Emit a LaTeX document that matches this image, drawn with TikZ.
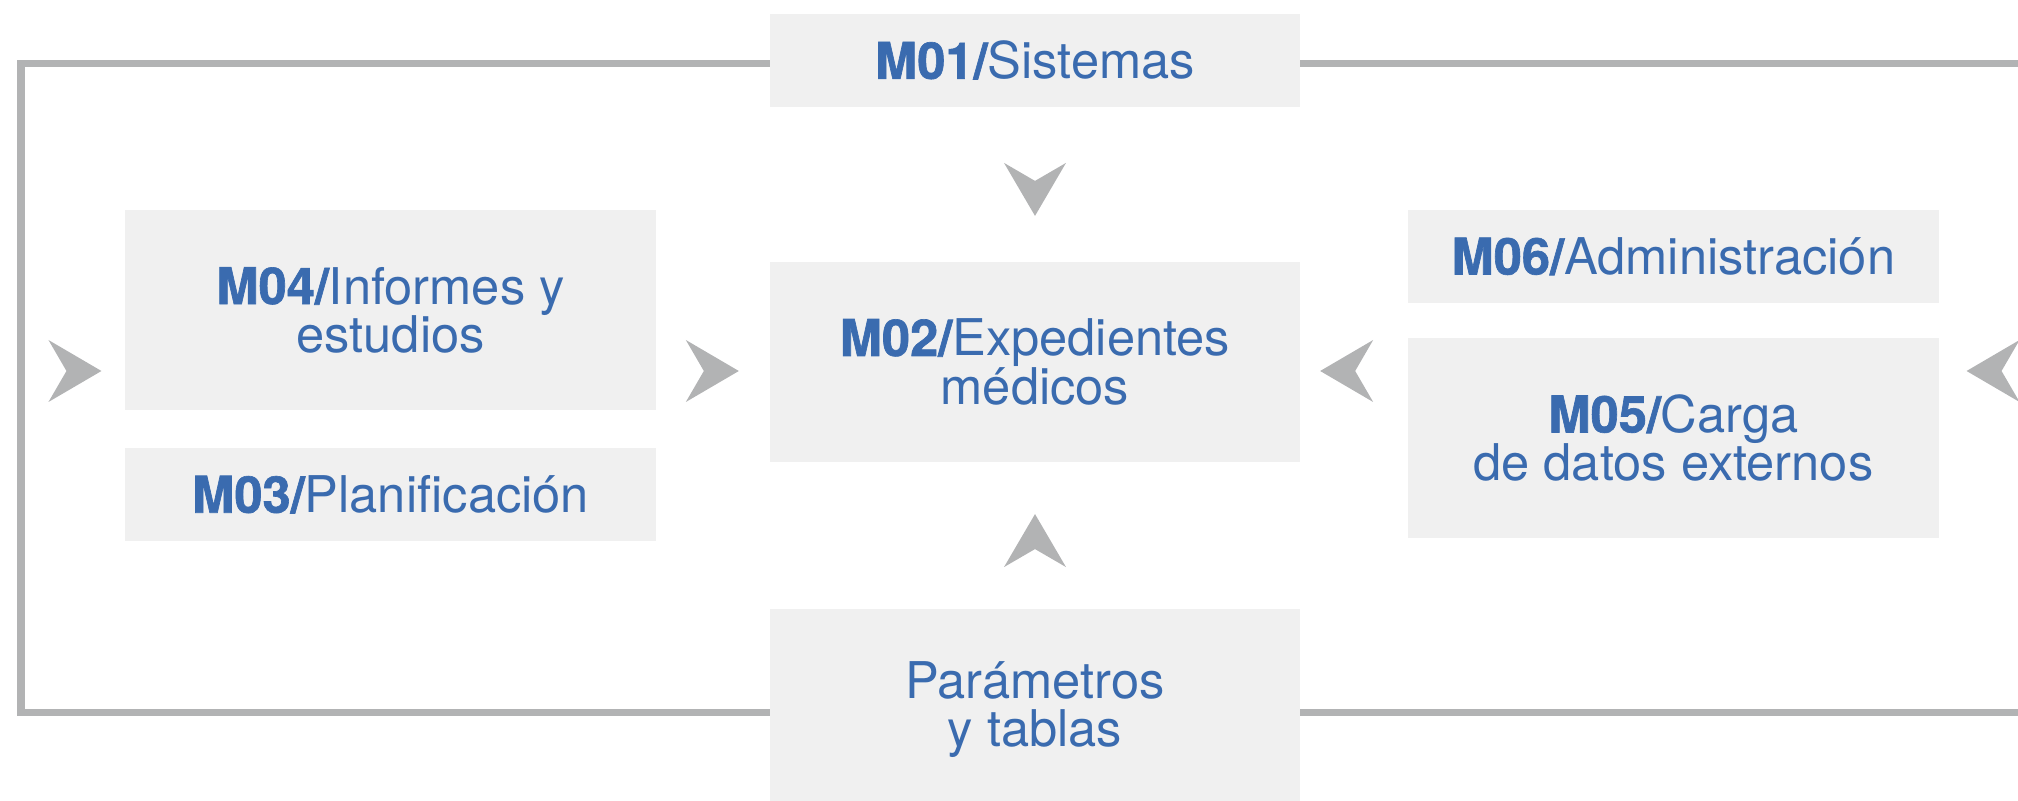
\documentclass[tikz,border=0pt]{standalone}
\usepackage{fontspec}
\setmainfont{TeX Gyre Heros}
\newfontfamily\heavy[FakeBold=1.3]{TeX Gyre Heros Bold}
\usetikzlibrary{positioning}
\definecolor{modblue}{HTML}{3A6BAF}
\definecolor{boxgray}{HTML}{F0F0F0}
\definecolor{linegray}{HTML}{B2B3B4}
\newcommand{\modid}[1]{{\heavy #1/}}

\begin{document}
\begin{tikzpicture}[x=0.01cm,y=-0.01cm,every node/.style={outer sep=0pt},
 module/.style={fill=boxgray,text=modblue,inner sep=0pt,minimum width=5.3cm,minimum height=2cm,align=center,font=\fontsize{14.4}{13.7}\selectfont},
 slim/.style={module,minimum height=0.93cm},
 loopline/.style={draw=linegray,line width=0.07cm},
 chev/.pic={\fill[linegray] (0,0) -- (-53,-31) -- (-35,0) -- (-53,31) -- cycle;}]
 \clip[use as bounding box] (0,0) rectangle (2018,801);

 \node[module] (m02) at (1035,362) {\modid{M02}Expedientes\\médicos};
 \node[slim,above=1.55cm of m02] (m01) {\modid{M01}Sistemas};
 \node[module,below=1.47cm of m02] (par) {Parámetros\\y tablas};

 \node[module,left=1.14cm of m02,yshift=0.52cm] (m04) {\modid{M04}Informes y\\estudios};
 \node[slim,below=0.38cm of m04] (m03) {\modid{M03}Planificación};

 \node[module,right=1.08cm of m02,yshift=-0.76cm] (m05) {\modid{M05}Carga\\de datos externos};
 \node[slim,above=0.35cm of m05] (m06) {\modid{M06}Administración};

 % outer loop
 \coordinate (nw) at (21,64);
 \coordinate (sw) at (21,713);
 \coordinate (ne) at (2049,64);
 \coordinate (se) at (2049,713);
 \draw[loopline] (m01.west |- nw) -- (nw) -- (sw) -- (par.west |- sw);
 \draw[loopline] (m01.east |- ne) -- (ne) -- (se) -- (par.east |- se);

 % chevrons
 \coordinate (mid) at ([yshift=-0.09cm]m02.center);
 \pic[yshift=-1.09cm,rotate=-90] at (m01.south) {chev};
 \pic[yshift=0.95cm,rotate=90] at (par.north) {chev};
 \pic[xshift=-0.24cm] at (m04.west |- mid) {chev};
 \pic[xshift=-0.31cm] at (m02.west |- mid) {chev};
 \pic[xshift=0.2cm,rotate=180] at (m02.east |- mid) {chev};
 \pic[xshift=0.28cm,rotate=180] at (m05.east |- mid) {chev};
\end{tikzpicture}
\end{document}
